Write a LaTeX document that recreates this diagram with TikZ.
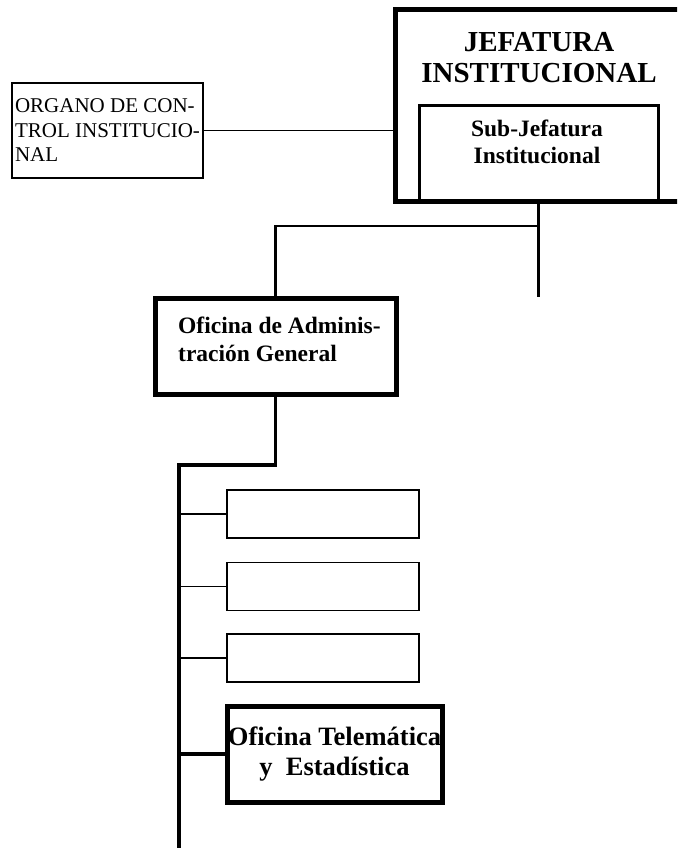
\documentclass[tikz,border=0pt]{standalone}
\usepackage{fontspec}
\setmainfont{Liberation Serif}
\begin{document}
\begin{tikzpicture}[x=1pt,y=-1pt,
  box/.style={draw, rectangle, inner sep=0pt},
  lwa/.style={line width=1.7pt},
  lwb/.style={line width=3pt},
  lwc/.style={line width=3.5pt},
  lwd/.style={line width=4pt},
  lwe/.style={line width=5pt},
  bigtitle/.style={font=\fontsize{29}{31}\selectfont\bfseries, align=center, inner sep=0pt},
  subtitle/.style={font=\fontsize{23.5}{27}\selectfont\bfseries, inner sep=0pt}]
\useasboundingbox (0,0) rectangle (677,848);
\clip (0,0) rectangle (677,848);

% Jefatura
\node[box, lwe, minimum width=300, minimum height=191] (jef) at (545,105.5) {};
\node[bigtitle, anchor=north] (jeft) at (539,32.5) {JEFATURA\\INSTITUCIONAL};
\node[box, lwb, minimum width=239, minimum height=95] (sub) at (538.5,153.5) {};
\node[subtitle, align=center, anchor=north] (subt) at (537,120) {Sub-Jefatura\\Institucional};

% Organo de control
\node[box, lwa, minimum width=191, minimum height=95, font=\fontsize{21}{24.5}\selectfont, align=left] (org) at (107.5,130.5) {ORGANO DE CON-\\TROL INSTITUCIO-\\NAL};

% Administracion
\node[box, lwe, minimum width=241, minimum height=96] (adm) at (275.5,346) {};
\node[subtitle, font=\fontsize{23.5}{28}\selectfont\bfseries, align=left, anchor=north west] (admt) at (178,316.5) {Oficina de Adminis-\\tración General};

% empty boxes
\node[box, lwa, minimum width=192, minimum height=48] (e1) at (323,514) {};
\node[box, lwa, minimum width=192, minimum height=48] (e2) at (323,586.5) {};
\node[box, lwa, minimum width=192, minimum height=48] (e3) at (323,658) {};

% Telematica
\node[box, lwe, minimum width=215, minimum height=96, font=\fontsize{26.5}{30}\selectfont\bfseries, align=center] (tel) at (334.5,754) {Oficina Telemática\\y\ \ Estadística};

% connectors
\draw[lwa] (org.east) -- (jef.west |- org.east);
\coordinate (c1) at (sub.south |- 0,297);
\coordinate (b1) at (sub.south |- 0,226);
\draw[lwb] (sub.south) -- (c1);
\coordinate (b2) at (b1 -| adm.north);
\draw[lwa] (b1) -- (b2);
\draw[lwb] ([yshift=0.8pt]b2) -- (adm.north);
\coordinate (k2) at (179,465);
\coordinate (k1) at (adm.south |- k2);
\coordinate (k3) at (179,852);
\draw[lwc] (adm.south) -- (k1) -- (k2) -- (k3);
\draw[lwa] (e1.west -| k2) -- (e1.west);
\draw[lwa] (e2.west -| k2) -- (e2.west);
\draw[lwa] (e3.west -| k2) -- (e3.west);
\draw[lwd] (tel.west -| k2) -- (tel.west);
\end{tikzpicture}
\end{document}
